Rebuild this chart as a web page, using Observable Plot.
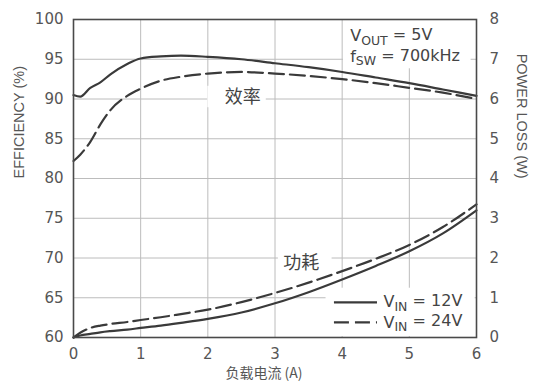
<!DOCTYPE html>
<html><head><meta charset="utf-8">
<script src="https://cdn.jsdelivr.net/npm/d3@7"></script>
<script src="https://cdn.jsdelivr.net/npm/@observablehq/plot@0.6"></script>
<style>
html,body{margin:0;padding:0;background:#fff;}
</style></head><body><div id="chart"></div>
<script>
// ---- data ----
const current = [0, 0.1, 0.25, 0.4, 0.55, 0.8, 1, 1.3, 1.6, 2, 2.5, 3, 3.5, 4, 4.5, 5, 5.5, 6];
const eff12   = [90.5, 90.3, 91.4, 92.1, 93.1, 94.4, 95.1, 95.35, 95.45, 95.3, 95.0, 94.5, 94.0, 93.4, 92.7, 92.0, 91.2, 90.4];
const eff24   = [82.2, 83.0, 84.6, 86.8, 88.6, 90.4, 91.3, 92.3, 92.8, 93.2, 93.4, 93.2, 92.9, 92.5, 92.0, 91.4, 90.8, 90.0];
const loss12  = [0, 0.05, 0.09, 0.13, 0.16, 0.2, 0.24, 0.3, 0.37, 0.47, 0.63, 0.86, 1.14, 1.46, 1.8, 2.17, 2.62, 3.2];
const loss24  = [0, 0.12, 0.24, 0.3, 0.34, 0.39, 0.44, 0.51, 0.59, 0.7, 0.89, 1.12, 1.38, 1.67, 1.98, 2.33, 2.78, 3.35];
const xTicks = [0, 1, 2, 3, 4, 5, 6];
const effTicks = [60, 65, 70, 75, 80, 85, 90, 95, 100];
const lossTicks = [0, 1, 2, 3, 4, 5, 6, 7, 8];
const seriesLabels = ["V|IN| = 12V", "V|IN| = 24V"];
const noteLines = ["V|OUT| = 5V", "f|SW| = 700kHz"];
const curveLabels = ["效率", "功耗"];
const xLabel = "负载电流 (A)";
const yLabel = "EFFICIENCY (%)";
const y2Label = "POWER LOSS (W)";

// ---- build ----
const lossToEff = w => 60 + w * 5;           // right axis 0..8 W  ->  left axis 60..100 %
const rows = current.map((c, i) => ({current: c, eff12: eff12[i], eff24: eff24[i], loss12: loss12[i], loss24: loss24[i]}));

const ink = "#3a3a3a";
const gridColor = "#bcbcbc";
const dash = "15,6";

// annotation placement (layout, in scale units)
const whiteBoxes = [
  {x1: 4.02, x2: 5.92, y1: 93.8, y2: 100},   // operating-condition note
  {x1: 2.0, x2: 2.87, y1: 88.9, y2: 91.6},   // 效率
  {x1: 3.05, x2: 3.85, y1: 67.9, y2: 70.7},  // 功耗
  {x1: 3.76, x2: 5.98, y1: 60.1, y2: 66.2}   // legend
];
const curveLabelPos = [{x: 2.52, y: 90.2}, {x: 3.39, y: 69.3}];
const notePos = {x: 4.12, y: [97.95, 95.35]};
const legendPos = {x1: 3.885, x2: 4.526, xt: 4.615, y: [64.42, 61.9]};

const chart = Plot.plot({
  width: 543, height: 386,
  marginTop: 19, marginRight: 67, marginBottom: 49, marginLeft: 73,
  style: {fontFamily: "'DejaVu Sans', sans-serif", fontSize: "15px", color: "#565656", background: "#fff", overflow: "visible"},
  x: {domain: [0, 6]},
  y: {domain: [60, 100]},
  marks: [
    Plot.gridX({ticks: xTicks, stroke: gridColor, strokeOpacity: 1, strokeWidth: 1}),
    Plot.gridY({ticks: effTicks, stroke: gridColor, strokeOpacity: 1, strokeWidth: 1}),
    Plot.rect(whiteBoxes, {x1: "x1", x2: "x2", y1: "y1", y2: "y2", fill: "#fff"}),
    // efficiency
    Plot.line(rows, {x: "current", y: "eff12", stroke: ink, strokeWidth: 2.2, curve: "monotone-x"}),
    Plot.line(rows, {x: "current", y: "eff24", stroke: ink, strokeWidth: 2.2, strokeDasharray: dash, curve: "monotone-x"}),
    // power loss (right axis)
    Plot.line(rows, {x: "current", y: d => lossToEff(d.loss12), stroke: ink, strokeWidth: 2.2, curve: "monotone-x"}),
    Plot.line(rows, {x: "current", y: d => lossToEff(d.loss24), stroke: ink, strokeWidth: 2.2, strokeDasharray: dash, curve: "monotone-x"}),
    Plot.frame({stroke: "#4a4a4a", strokeWidth: 1.6}),
    Plot.axisX({ticks: xTicks, tickFormat: d => String(d), tickSize: 0, tickPadding: 11, label: null}),
    Plot.axisY({ticks: effTicks, tickFormat: d => String(d), tickSize: 0, tickPadding: 10, label: null}),
    Plot.axisY({anchor: "right", ticks: lossTicks.map(lossToEff), tickFormat: d => String((d - 60) / 5), tickSize: 0, tickPadding: 13, label: null}),
    // axis titles
    Plot.text([yLabel], {frameAnchor: "left", rotate: -90, dx: -54, fontFamily: "'Liberation Sans', sans-serif", fontSize: 14.5}),
    Plot.text([y2Label], {frameAnchor: "right", rotate: 90, dx: 45, fontFamily: "'Liberation Sans', sans-serif", fontSize: 14.5}),
    Plot.text([xLabel], {frameAnchor: "bottom", dy: 40, dx: -11, fontFamily: "'Noto Sans CJK SC', sans-serif", fontSize: 14}),
    // curve labels
    Plot.text(curveLabels, {x: (d, i) => curveLabelPos[i].x, y: (d, i) => curveLabelPos[i].y, text: d => d, fontFamily: "'Noto Sans CJK SC', sans-serif", fontSize: 18, fill: "#444"}),
    // operating note
    Plot.text(noteLines, {x: () => notePos.x, y: (d, i) => notePos.y[i], text: d => d, textAnchor: "start", fontSize: 16, fill: "#444"}),
    // legend
    Plot.ruleY([legendPos.y[0]], {x1: legendPos.x1, x2: legendPos.x2, stroke: ink, strokeWidth: 2.2}),
    Plot.ruleY([legendPos.y[1]], {x1: legendPos.x1, x2: legendPos.x2, stroke: ink, strokeWidth: 2.2, strokeDasharray: dash}),
    Plot.text(seriesLabels, {x: () => legendPos.xt, y: (d, i) => legendPos.y[i], text: d => d, textAnchor: "start", fontSize: 16, fill: "#444"})
  ]
});

// subscripts: "A|SUB|rest"
d3.select(chart).selectAll("text").each(function () {
  const t = this.textContent;
  if (!t.includes("|")) return;
  const p = t.split("|");
  const s = d3.select(this);
  s.text(null);
  s.append("tspan").text(p[0]);
  s.append("tspan").attr("font-size", "0.78em").attr("dy", "0.3em").text(p[1]);
  s.append("tspan").attr("dy", "-0.3em").text(p[2]);
});

document.getElementById("chart").appendChild(chart);
</script>
</body></html>
